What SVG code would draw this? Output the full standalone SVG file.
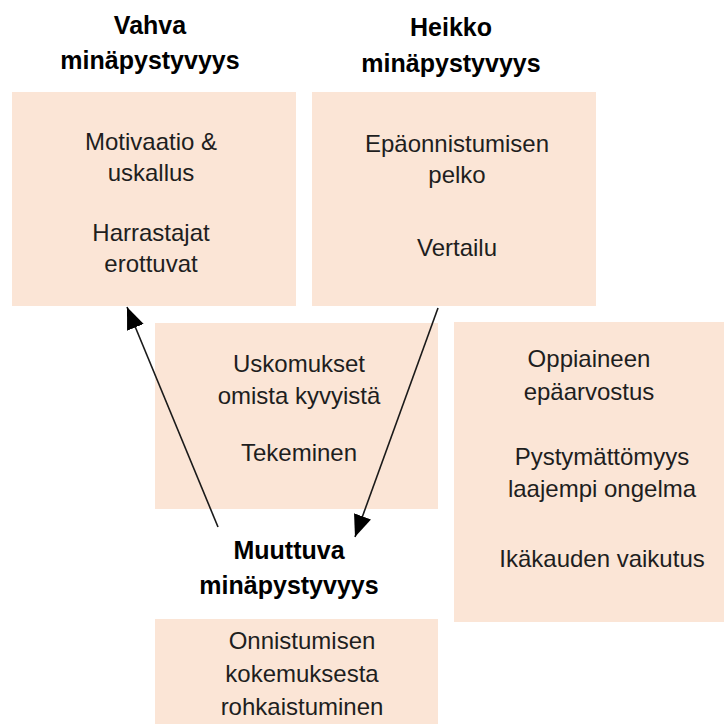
<svg xmlns="http://www.w3.org/2000/svg" width="724" height="724" viewBox="0 0 724 724">
<style>
.box{fill:#fbe5d6}
.t{font-family:"Liberation Sans",Arial,sans-serif;font-size:24px;fill:#1e1e1e;text-anchor:middle}
.h{font-family:"Liberation Sans",Arial,sans-serif;font-size:25px;font-weight:bold;fill:#000;text-anchor:middle}
.c{stroke:#1a1a1a;stroke-width:1.6;fill:none}
</style>
<defs>
<marker id="ah" viewBox="0 0 10 10" refX="9" refY="5" markerWidth="8" markerHeight="8" markerUnits="userSpaceOnUse" orient="auto" style="overflow:visible">
<path d="M0,0 L10,5 L0,10 z" fill="#000" transform="scale(1)"/>
</marker>
<marker id="big" viewBox="0 0 22 18" refX="22" refY="9" markerWidth="22" markerHeight="18" markerUnits="userSpaceOnUse" orient="auto">
<path d="M0,0 L22,9 L0,18 z" fill="#000"/>
</marker>
</defs>
<g id="titles">
<g id="title-vahva"><text class="h" x="150" y="34">Vahva</text><text class="h" x="150" y="69">minäpystyvyys</text></g>
<g id="title-heikko"><text class="h" x="451" y="36">Heikko</text><text class="h" x="451" y="72">minäpystyvyys</text></g>
<g id="title-muuttuva"><text class="h" x="289" y="559">Muuttuva</text><text class="h" x="289" y="594">minäpystyvyys</text></g>
</g>
<g id="node-vahva">
<rect class="box" x="12" y="92" width="284" height="214"/>
<text class="t" x="151" y="150">Motivaatio &amp;</text>
<text class="t" x="151" y="181">uskallus</text>
<text class="t" x="151" y="241">Harrastajat</text>
<text class="t" x="151" y="272">erottuvat</text>
</g>
<g id="node-heikko">
<rect class="box" x="312" y="92" width="284" height="214"/>
<text class="t" x="457" y="152">Epäonnistumisen</text>
<text class="t" x="457" y="183">pelko</text>
<text class="t" x="457" y="256">Vertailu</text>
</g>
<g id="node-middle">
<rect class="box" x="155" y="323" width="283" height="186"/>
<text class="t" x="299" y="372">Uskomukset</text>
<text class="t" x="299" y="404">omista kyvyistä</text>
<text class="t" x="299" y="461">Tekeminen</text>
</g>
<g id="node-right">
<rect class="box" x="454" y="322" width="270" height="300"/>
<text class="t" x="589" y="367">Oppiaineen</text>
<text class="t" x="589" y="400">epäarvostus</text>
<text class="t" x="602" y="465">Pystymättömyys</text>
<text class="t" x="602" y="497">laajempi ongelma</text>
<text class="t" x="602" y="567">Ikäkauden vaikutus</text>
</g>
<g id="node-muuttuva">
<rect class="box" x="155" y="619" width="283" height="105"/>
<text class="t" x="302" y="649">Onnistumisen</text>
<text class="t" x="302" y="682">kokemuksesta</text>
<text class="t" x="302" y="715">rohkaistuminen</text>
</g>
<g id="connectors">
<line class="c" x1="218" y1="527" x2="127" y2="307" marker-end="url(#big)"/>
<line class="c" x1="438" y1="308" x2="355" y2="537" marker-end="url(#big)"/>
</g>
</svg>
